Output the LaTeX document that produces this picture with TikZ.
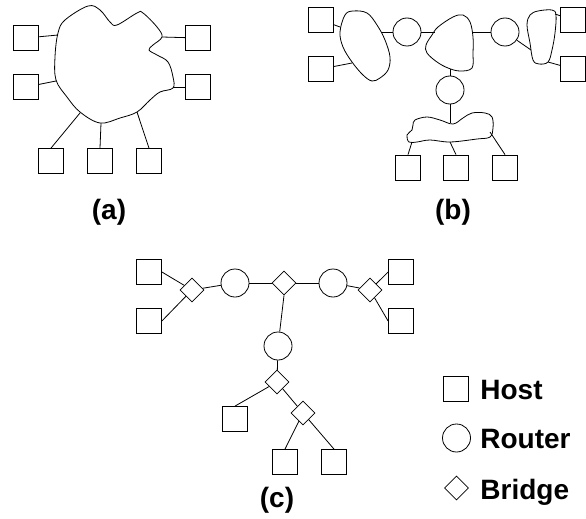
\documentclass[tikz,border=0pt]{standalone}
\usepackage{fontspec}
\setmainfont{Liberation Sans}
\usetikzlibrary{shapes.geometric}
\begin{document}
\begin{tikzpicture}[x=1pt,y=-1pt,line width=0.8pt,
  host/.style={draw,rectangle,minimum size=25pt,inner sep=0pt},
  router/.style={draw,circle,minimum size=28pt,inner sep=0pt},
  bridge/.style={draw,diamond,minimum size=24pt,inner sep=0pt},
  lbl/.style={font=\fontsize{28}{31}\selectfont\bfseries,inner sep=0pt},
  cloud/.style={smooth cycle,tension=0.6}]
\useasboundingbox (0,0) rectangle (586,519);
% (a)
\draw plot[cloud] coordinates {(88,6) (65,20) (58,33) (55,57) (56,80) (67,97) (80,112) (100,123) (120,118) (137,112) (150,100) (160,92) (173,88) (173,77) (168,62) (157,55) (149,50) (153,45) (162,37) (157,27) (143,13) (137,13) (117,25) (110,22) (100,10)};
\coordinate (cA1) at (58,35);
\coordinate (cA2) at (56,81);
\coordinate (cA3) at (162,37);
\coordinate (cA4) at (173,87);
\coordinate (cA5) at (80,113);
\coordinate (cA6) at (101,123);
\coordinate (cA7) at (137,112);
\node[host] (a1) at (26,38) {};
\node[host] (a2) at (26,87) {};
\node[host] (a3) at (198,38) {};
\node[host] (a4) at (198,87) {};
\node[host] (a5) at (51,161) {};
\node[host] (a6) at (100,161) {};
\node[host] (a7) at (149,161) {};
\draw (a1) -- (cA1);
\draw (a2) -- (cA2);
\draw (cA3) -- (a3);
\draw (cA4) -- (a4);
\draw (cA5) -- (a5.north);
\draw (cA6) -- (a6.north);
\draw (cA7) -- (a7.north);
\node[lbl] (la) at (109,212) {(a)};
% (b)
\draw plot[cloud] coordinates {(345,15) (353,11) (367,13) (377,25) (385,40) (390,57) (388,70) (380,78) (372,81) (363,75) (352,62) (343,47) (340,32)};
\draw plot[cloud] coordinates {(438,27) (453,17) (463,15) (470,22) (473,37) (473,53) (472,68) (460,71) (448,68) (437,62) (427,53) (426,45) (432,35)};
\draw plot[cloud] coordinates {(530,15) (538,11) (552,10) (556,15) (555,33) (552,50) (548,62) (539,64) (533,60) (530,43) (527,25)};
\draw plot[cloud] coordinates {(415,120) (427,117) (440,120) (453,124) (463,118) (472,113) (485,113) (492,117) (493,128) (490,137) (477,139) (450,142) (430,140) (417,142) (409,142) (407,135) (412,130) (413,125)};
\coordinate (cL1) at (340,27);
\coordinate (cL2) at (352,63);
\coordinate (cL3) at (382,32);
\coordinate (cC1) at (435,32);
\coordinate (cC2) at (473,32);
\coordinate (cC3) at (450,69);
\coordinate (cR1) at (531,50);
\coordinate (cR2) at (555,14);
\coordinate (cR3) at (548,62);
\coordinate (cB0) at (450,123);
\coordinate (cB1) at (412,142);
\coordinate (cB2) at (450,142);
\coordinate (cB3) at (490,132);
\node[host] (b1) at (321,20) {};
\node[host] (b2) at (321,69) {};
\node[host] (b3) at (573,20) {};
\node[host] (b4) at (573,69) {};
\node[host] (b5) at (408,167.5) {};
\node[host] (b6) at (456,167.5) {};
\node[host] (b7) at (505,167.5) {};
\node[router] (r1) at (407,32) {};
\node[router] (r2) at (505,32) {};
\node[router] (r3) at (450,90) {};
\draw (b1) -- (cL1);
\draw (b2) -- (cL2);
\draw (cL3) -- (r1);
\draw (r1) -- (cC1);
\draw (cC2) -- (r2);
\draw (r2) -- (cR1);
\draw (cR2) -- (b3);
\draw (cR3) -- (b4);
\draw (cC3) -- (r3);
\draw (r3) -- (cB0);
\draw (cB1) -- (b5.north);
\draw (cB2) -- (b6.north);
\draw (cB3) -- (b7.north);
\node[lbl] (lb) at (453,212) {(b)};
% (c)
\node[host] (c1) at (149,272) {};
\node[host] (c2) at (149,321) {};
\node[host] (c3) at (401,272) {};
\node[host] (c4) at (401,321) {};
\node[host] (c5) at (235,419) {};
\node[host] (c6) at (285,462) {};
\node[host] (c7) at (334,462) {};
\node[bridge] (g1) at (192,290) {};
\node[bridge] (g2) at (284,283) {};
\node[bridge] (g3) at (370,290) {};
\node[bridge] (g4) at (277,382) {};
\node[bridge] (g5) at (303,413) {};
\node[router] (s1) at (235,283) {};
\node[router] (s2) at (333,283) {};
\node[router] (s3) at (278,346) {};
\draw (c1.east) -- (g1);
\draw (c2.east) -- (g1);
\draw (g1) -- (s1);
\draw (s1) -- (g2);
\draw (g2) -- (s2);
\draw (s2) -- (g3);
\draw (g3) -- (c3.west);
\draw (g3) -- (c4.west);
\draw (g2.south) -- (s3);
\draw (s3) -- (g4);
\draw (g4) -- (c5.north);
\draw (g4) -- (g5);
\draw (g5) -- (c6.north);
\draw (g5) -- (c7.north);
\node[lbl] (lc) at (277,500) {(c)};
% legend
\node[host] (kh) at (456,389) {};
\node[router] (kr) at (456.5,438) {};
\node[bridge] (kb) at (456.5,488) {};
\node[lbl,anchor=base west] (th) at (480,399.5) {Host};
\node[lbl,anchor=base west] (tr) at (480,448.5) {Router};
\node[lbl,anchor=base west] (tb) at (480,499) {Bridge};
\end{tikzpicture}
\end{document}
